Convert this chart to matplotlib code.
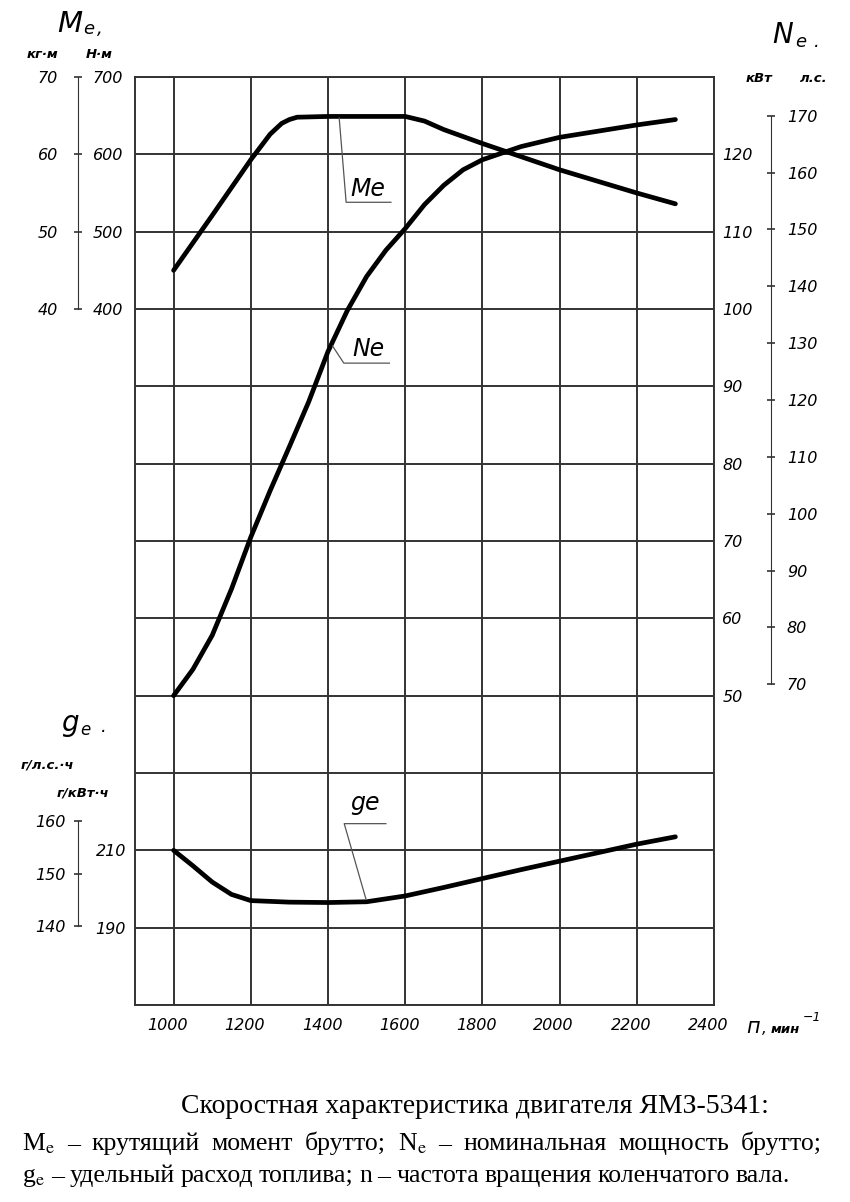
import matplotlib
matplotlib.use("Agg")
import matplotlib.pyplot as plt
from matplotlib.transforms import ScaledTranslation

plt.rcParams['mathtext.fontset'] = 'stix'

# torque curve, N*m
rpm_me = [1000, 1100, 1200, 1250, 1280, 1300, 1320, 1400, 1500, 1600,
          1650, 1700, 1800, 1900, 2000, 2100, 2200, 2300]
me_nm = [450, 521, 593, 626, 640, 645, 648, 649, 649, 649,
         643, 632, 614, 597, 580, 565, 550, 536]

# power curve, kW
rpm_ne = [1000, 1050, 1100, 1150, 1200, 1250, 1300, 1350, 1400, 1450, 1500,
          1550, 1600, 1650, 1700, 1750, 1800, 1900, 2000, 2100, 2200, 2300]
ne_kw = [50, 53.4, 57.8, 63.8, 70.5, 76.5, 82.2, 88.0, 94.5, 99.8, 104.2,
         107.6, 110.4, 113.5, 116.0, 118.0, 119.3, 121.0, 122.2, 123.0, 123.8, 124.5]

# specific fuel consumption, g/kWh
rpm_ge = [1000, 1050, 1100, 1150, 1200, 1300, 1400, 1500, 1600, 1700,
          1800, 1900, 2000, 2100, 2200, 2300]
ge_gkwh = [210, 206.0, 201.8, 198.6, 197.0, 196.6, 196.5, 196.7, 198.2, 200.4,
           202.7, 205.0, 207.2, 209.4, 211.6, 213.5]

x_ticks = [1000, 1200, 1400, 1600, 1800, 2000, 2200, 2400]
kw_labels = [50, 60, 70, 80, 90, 100, 110, 120]
hp_ticks = [70, 80, 90, 100, 110, 120, 130, 140, 150, 160, 170]
nm_ticks = [400, 500, 600, 700]
kgf_ticks = [40, 50, 60, 70]
ge_ticks = [190, 210]
ghp_ticks = [140, 150, 160]

KW2HP = 1.36
W, H = 850, 1202
GRID = '#333333'
TICKFONT = dict(fontsize=11.5, fontstyle='italic')


def fx(px):
    return px / W


def fy(py):
    return 1 - py / H


fig = plt.figure(figsize=(8.5, 12.02), dpi=100)
ax = fig.add_axes([fx(135), fy(1005), (714 - 135) / W, (1005 - 77) / H])

# main axis: power in kW, grid
ax.set_xlim(900, 2400)
ax.set_ylim(10, 130)
ax.set_xticks(x_ticks)
ax.set_xticklabels([str(v) for v in x_ticks], **TICKFONT)
ax.set_yticks(range(10, 131, 10))
ax.grid(True, color=GRID, lw=1.4)
for s in ax.spines.values():
    s.set_color(GRID)
    s.set_linewidth(1.4)


def twin(ylim):
    t = ax.twinx()
    t.set_ylim(*ylim)
    for s in t.spines.values():
        s.set_visible(False)
    return t


ax_me = twin((-500, 700))
ax_ge = twin((170, 410))
ax_kgf = twin((-50, 70))
ax_hp = twin((10 * KW2HP, 130 * KW2HP))
ax_ghp = twin((170 / KW2HP, 410 / KW2HP))

# N*m labels at chart border
ax_me.yaxis.set_ticks_position('left')
ax_me.set_yticks(nm_ticks)
ax_me.set_yticklabels([str(v) for v in nm_ticks], **TICKFONT)
ax_me.tick_params(axis='y', length=0, pad=8.5)

# g/kWh labels
ax_ge.yaxis.set_ticks_position('left')
ax_ge.set_yticks(ge_ticks)
ax_ge.set_yticklabels([str(v) for v in ge_ticks], **TICKFONT)
ax_ge.tick_params(axis='y', length=0, pad=6.5)

# kgf*m scale bar
ax_kgf.yaxis.set_ticks_position('left')
ax_kgf.spines['left'].set_visible(True)
ax_kgf.spines['left'].set_position(('axes', -0.099))
ax_kgf.spines['left'].set_bounds(40, 70)
ax_kgf.spines['left'].set_color(GRID)
ax_kgf.set_yticks(kgf_ticks)
ax_kgf.set_yticklabels([str(v) for v in kgf_ticks], **TICKFONT)
ax_kgf.tick_params(axis='y', direction='inout', length=6, width=1.2,
                   color=GRID, pad=11)

# g/hp*h scale bar
ax_ghp.yaxis.set_ticks_position('left')
ax_ghp.spines['left'].set_visible(True)
ax_ghp.spines['left'].set_position(('axes', -0.099))
ax_ghp.spines['left'].set_bounds(140, 160)
ax_ghp.spines['left'].set_color(GRID)
ax_ghp.set_yticks(ghp_ticks)
ax_ghp.set_yticklabels([str(v) for v in ghp_ticks], **TICKFONT)
ax_ghp.tick_params(axis='y', direction='inout', length=6, width=1.2,
                   color=GRID, pad=6)

# hp scale bar
ax_hp.spines['right'].set_visible(True)
ax_hp.spines['right'].set_position(('axes', 1.0984))
ax_hp.spines['right'].set_bounds(70, 170)
ax_hp.spines['right'].set_color(GRID)
ax_hp.set_yticks(hp_ticks)
ax_hp.set_yticklabels([str(v) for v in hp_ticks], **TICKFONT)
ax_hp.tick_params(axis='y', direction='inout', length=6, width=1.2,
                  color=GRID, pad=8.5)

# twinx moves main ticks to the left, put them back on the right
ax.yaxis.tick_right()
ax.set_yticklabels([str(v) if v in kw_labels else '' for v in range(10, 131, 10)],
                   **TICKFONT)
ax.tick_params(axis='both', length=0)
ax.tick_params(axis='y', pad=6)
ax.tick_params(axis='x', pad=9)
# the original prints the rpm numbers slightly left of their grid lines
shift = ScaledTranslation(-6 / 100, 0, fig.dpi_scale_trans)
for lbl in ax.get_xticklabels():
    lbl.set_transform(lbl.get_transform() + shift)

# curves
line_kw = dict(color='black', lw=3.4, solid_capstyle='round', solid_joinstyle='round')
ax_me.plot(rpm_me, me_nm, **line_kw)
ax.plot(rpm_ne, ne_kw, **line_kw)
ax_ge.plot(rpm_ge, ge_gkwh, **line_kw)

# curve labels with leaders
lead_kw = dict(color='#555555', lw=0.9)
ax_me.plot([1429, 1447, 1563], [647, 538, 538], **lead_kw)
ax_me.text(1503, 546, 'Me', fontsize=17, fontstyle='italic', ha='center', va='baseline')
ax.plot([1412, 1441, 1559], [95.2, 93.0, 93.0], **lead_kw)
ax.text(1505, 93.9, 'Ne', fontsize=17, fontstyle='italic', ha='center', va='baseline')
ax_ge.plot([1498, 1442, 1550], [197.5, 216.9, 216.9], **lead_kw)
ax_ge.text(1496, 220.5, 'ge', fontsize=17, fontstyle='italic', ha='center', va='baseline')

# axis titles
it = dict(fontstyle='italic')
small = dict(fontsize=9.5, fontstyle='italic', fontweight='bold')
fig.text(fx(57), fy(32), 'M', fontsize=21, **it)
fig.text(fx(83), fy(34), 'e', fontsize=13, **it)
fig.text(fx(97), fy(34), ',', fontsize=13, **it)
fig.text(fx(27), fy(58), 'кг·м', **small)
fig.text(fx(86), fy(58), 'Н·м', **small)

fig.text(fx(772), fy(43), 'N', fontsize=20, **it)
fig.text(fx(795), fy(47), 'e', fontsize=13, **it)
fig.text(fx(814), fy(47), '.', fontsize=13, **it)
fig.text(fx(746), fy(82), 'кВт', **small)
fig.text(fx(800), fy(82), 'л.с.', **small)

fig.text(fx(61), fy(731), 'g', fontsize=20, **it)
fig.text(fx(80), fy(735), 'e', fontsize=12, **it)
fig.text(fx(101), fy(732), '.', fontsize=13, **it)
fig.text(fx(21), fy(768), 'г/л.с.·ч', **small)
fig.text(fx(57), fy(797), 'г/кВт·ч', **small)

fig.text(fx(746), fy(1033), 'п', fontsize=15, **it)
fig.text(fx(762), fy(1033), ',', fontsize=11, **it)
fig.text(fx(771), fy(1033), 'мин', **small)
fig.text(fx(803), fy(1021), '−1', fontsize=9, **it)

# caption
CAP = dict(fontsize=18.5, family='Liberation Serif', va='baseline')
fig.text(fx(475), fy(1113), 'Скоростная характеристика двигателя ЯМЗ-5341:',
         ha='center', fontsize=20, family='Liberation Serif', va='baseline')

words2 = ['M$_\\mathrm{e}$', '–', 'крутящий', 'момент', 'брутто;',
          'N$_\\mathrm{e}$', '–', 'номинальная', 'мощность', 'брутто;']
words3 = ['g$_\\mathrm{e}$', '–', 'удельный', 'расход', 'топлива;', 'n', '–',
          'частота', 'вращения', 'коленчатого', 'вала.']


def justify(words, x0, x1, y):
    texts = [fig.text(fx(x0), fy(y), w, **CAP) for w in words]
    fig.canvas.draw()
    r = fig.canvas.get_renderer()
    widths = [t.get_window_extent(r).width for t in texts]
    gap = max((x1 - x0 - sum(widths)) / (len(words) - 1), 3)
    x = x0
    for t, w in zip(texts, widths):
        t.set_x(fx(x))
        x += w + gap


justify(words2, 22, 822, 1150)
justify(words3, 22, 790, 1182)

fig.savefig('out.png', dpi=100)
